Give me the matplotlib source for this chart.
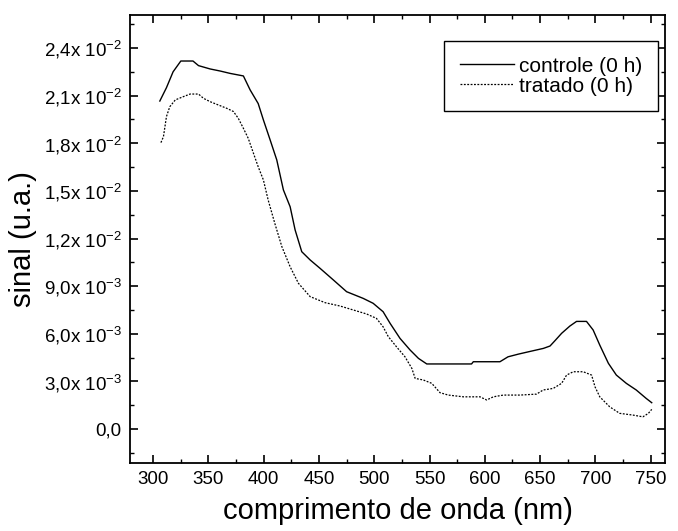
import matplotlib
matplotlib.use("Agg")
from matplotlib import pyplot as plt
from matplotlib.ticker import MultipleLocator, FuncFormatter

# wavelength (nm) and signal for the two samples
controle_x = [306, 312, 318, 325, 336, 341, 351.5, 360.6, 369.6, 381.6, 387.7, 395, 399.7,
              405.8, 411.8, 417.8, 423.9, 428.4, 434.4, 442, 451, 463, 475, 490, 499, 508,
              514.3, 523.3, 532.4, 540, 547.5, 588, 589.6, 613.7, 621, 630.4, 641, 653, 659,
              663.4, 669.5, 677, 683, 692, 698, 704, 711.8, 719, 728, 737, 746, 751]
controle_y = [0.02066, 0.02150, 0.02250, 0.02318, 0.02318, 0.02289, 0.02268, 0.02255, 0.0224,
              0.02224, 0.02136, 0.0205, 0.01947, 0.01821, 0.01695, 0.01506, 0.01400, 0.01254,
              0.01117, 0.01065, 0.01012, 0.00939, 0.00865, 0.00823, 0.00792, 0.00739, 0.00666,
              0.00571, 0.00498, 0.00445, 0.0041, 0.0041, 0.00424, 0.00424, 0.00455, 0.00472,
              0.00489, 0.00508, 0.00523, 0.00556, 0.00603, 0.00649, 0.00678, 0.00678, 0.00624,
              0.00529, 0.00414, 0.0034, 0.00288, 0.00246, 0.00193, 0.00166]

tratado_x = [307, 309.3, 312, 315, 320, 327.4, 333.4, 341, 345.5, 351.5, 359, 366.6, 372.6,
             377, 381.6, 386, 390.7, 395, 399.7, 404, 410, 416.4, 423.9, 431.4, 442, 455.5,
             469, 481, 493, 502, 508, 512.7, 520, 527.8, 534, 537, 544.4, 552, 559.5, 567,
             580.6, 595.7, 601.7, 607.7, 616.8, 631.8, 646.8, 652.8, 661.9, 669.5, 674, 680,
             689, 696.6, 699.7, 704, 713, 722, 734, 743, 748, 751]
tratado_y = [0.01804, 0.01842, 0.01968, 0.0203, 0.02073, 0.02094, 0.0211, 0.0211, 0.02083,
             0.02062, 0.02041, 0.0202, 0.0200, 0.01957, 0.01894, 0.01831, 0.01737, 0.01652,
             0.01569, 0.01443, 0.01296, 0.01149, 0.01022, 0.00918, 0.00834, 0.00796, 0.00775,
             0.0075, 0.00725, 0.00697, 0.00644, 0.00582, 0.00519, 0.00455, 0.00382, 0.00319,
             0.00309, 0.00288, 0.00229, 0.00214, 0.00203, 0.00203, 0.00183, 0.00203, 0.00214,
             0.00214, 0.0022, 0.00246, 0.00256, 0.00288, 0.0034, 0.00361, 0.00361, 0.0034,
             0.00266, 0.00203, 0.0014, 0.00099, 0.00088, 0.00077, 0.00099, 0.00124]

plt.rcParams['font.family'] = ['Liberation Sans', 'DejaVu Sans']
plt.rcParams['mathtext.fontset'] = 'custom'
plt.rcParams['mathtext.rm'] = 'Liberation Sans'
plt.rcParams['mathtext.it'] = 'Liberation Sans'


def ylabel_fmt(v, pos):
    # Origin style: "2,4x10^-2"
    if abs(v) < 1e-12:
        return "0,0"
    exp = -2 if abs(v) >= 0.01 - 1e-9 else -3
    mant = v / 10 ** exp
    return ("%.1f" % mant).replace(".", ",") + r"x 10$^{%d}$" % exp


fig = plt.figure(figsize=(6.78, 5.31), dpi=100)
ax = fig.add_axes([0.1917, 0.128, 0.7891, 0.8438])

ax.plot(controle_x, controle_y, color="black", lw=1.0, label="controle (0 h)")
ax.plot(tratado_x, tratado_y, color="black", lw=0.9, linestyle=(0, (1.5, 1.2)),
        label="tratado (0 h)")

ax.set_xlim(279, 763)
ax.set_ylim(-0.00214, 0.02608)
ax.xaxis.set_major_locator(MultipleLocator(50))
ax.xaxis.set_minor_locator(MultipleLocator(25))
ax.yaxis.set_major_locator(MultipleLocator(0.003))
ax.yaxis.set_minor_locator(MultipleLocator(0.0015))
ax.yaxis.set_major_formatter(FuncFormatter(ylabel_fmt))

ax.tick_params(which="both", direction="in", top=True, right=True, labelsize=13.5)
ax.tick_params(which="major", length=6, width=1.2, pad=6)
ax.tick_params(which="minor", length=3, width=1.0)
for s in ax.spines.values():
    s.set_linewidth(1.3)

ax.set_xlabel("comprimento de onda (nm)", fontsize=21, labelpad=6)
ax.set_ylabel("sinal (u.a.)", fontsize=21, labelpad=5)

leg = ax.legend(loc="upper right", bbox_to_anchor=(0.987, 0.942), fontsize=15,
                frameon=True, fancybox=False, edgecolor="black", framealpha=1,
                handlelength=2.6, handletextpad=0.25, borderpad=0.75,
                labelspacing=0.05, borderaxespad=0)
leg.get_frame().set_linewidth(1.0)

fig.savefig("out.png", dpi=100)
